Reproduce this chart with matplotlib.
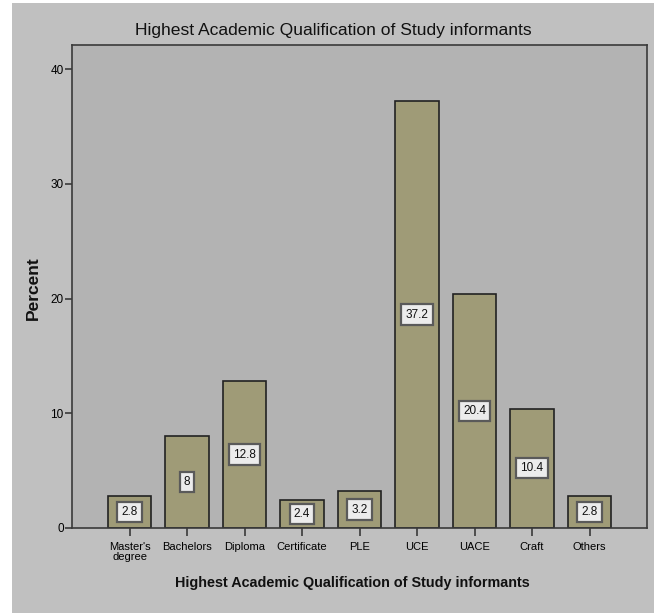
import numpy as np
from matplotlib import pyplot as plt

plt.rcParams['font.family'] = ['Liberation Sans', 'DejaVu Sans']

# qualification categories and their percentages
categories = ["Master's\ndegree", 'Bachelors', 'Diploma', 'Certificate', 'PLE',
              'UCE', 'UACE', 'Craft', 'Others']
percent = [2.8, 8, 12.8, 2.4, 3.2, 37.2, 20.4, 10.4, 2.8]
y_ticks = [0, 10, 20, 30, 40]

fig = plt.figure(figsize=(6.54, 6.13), dpi=100)
fig.patch.set_facecolor('white')

# gray panel behind everything, leaving a thin white strip left and top
fig.add_artist(plt.Rectangle((12 / 654, 0), 1, 1 - 3 / 613,
                             transform=fig.transFigure, facecolor='#c0c0c0',
                             edgecolor='none', zorder=-10))

ax = fig.add_axes([0.1101, 0.1387, 0.8792, 0.7879])
ax.set_facecolor('#b3b3b3')

x = np.arange(len(categories))
bars = ax.bar(x, percent, width=0.76, color='#9f9b77', edgecolor='#222222',
              linewidth=1.2, zorder=2)

# value boxes in the middle of each bar
for xi, val in zip(x, percent):
    ax.text(xi, val / 2, f'{val:g}', ha='center', va='center', fontsize=8.5,
            color='#111111', zorder=3,
            bbox=dict(boxstyle='square,pad=0.35', facecolor='#ececec',
                      edgecolor='#5a5a5a', linewidth=1.6))

ax.set_xlim(-1, 9)
ax.set_ylim(0, 42.1)
ax.set_xticks(x)
ax.set_xticklabels(categories, fontsize=8, linespacing=1.0)
ax.set_yticks(y_ticks)
ax.set_yticklabels([str(t) for t in y_ticks], fontsize=8.5)

for side in ['left', 'right', 'top', 'bottom']:
    ax.spines[side].set_color('#3a3a3a')
    ax.spines[side].set_linewidth(1.2)

ax.tick_params(axis='y', direction='out', length=5, width=1.2, color='#3a3a3a',
               pad=1)
ax.tick_params(axis='x', direction='out', length=6, width=1.2, color='#3a3a3a',
               pad=4)

fig.text(333 / 654, 1 - 31 / 613,
         'Highest Academic Qualification of Study informants', fontsize=12.6,
         ha='center', va='center', color='#111111')
fig.text(352 / 654, 1 - 583 / 613,
         'Highest Academic Qualification of Study informants', fontsize=10.4,
         fontweight='bold', ha='center', va='center', color='#111111')
fig.text(33 / 654, 1 - 288 / 613, 'Percent', fontsize=12.5, fontweight='bold',
         rotation=90, ha='center', va='center', color='#111111')

fig.savefig('out.png', dpi=100, facecolor=fig.get_facecolor())
